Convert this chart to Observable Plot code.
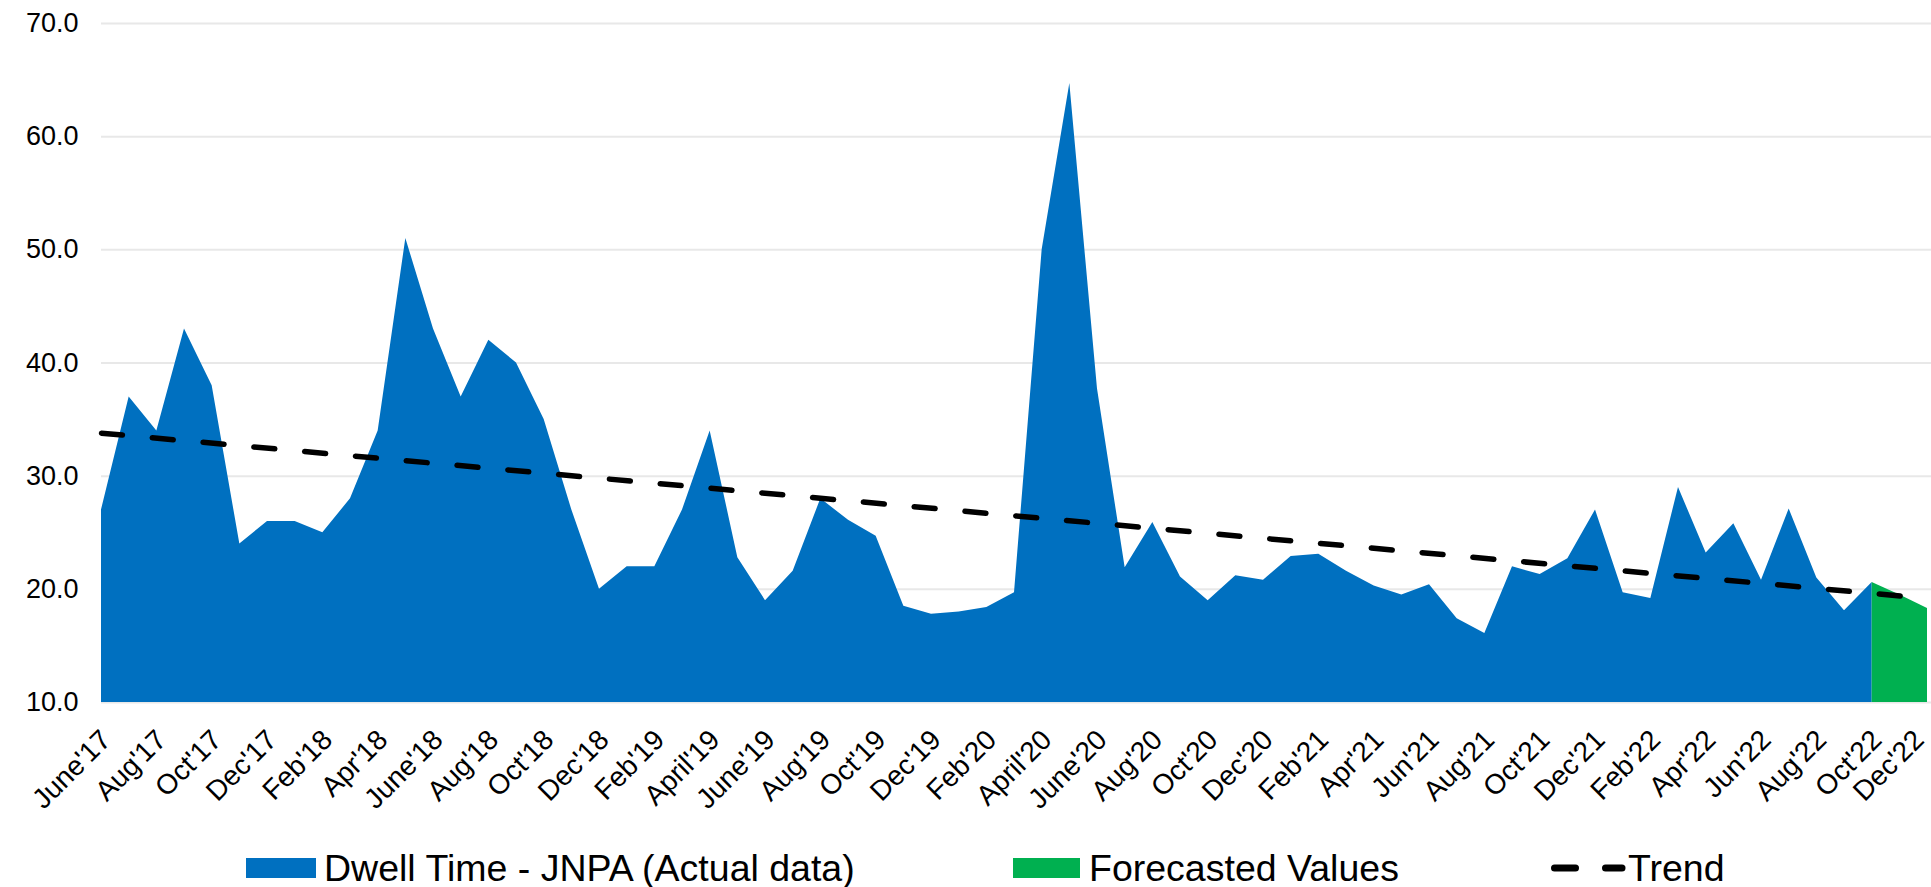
<!DOCTYPE html>
<html>
<head>
<meta charset="utf-8">
<script src="https://cdn.jsdelivr.net/npm/d3@7"></script>
<script src="https://cdn.jsdelivr.net/npm/@observablehq/plot@0.6"></script>
<style>
  html, body { margin: 0; padding: 0; background: #fff; }
  body { position: relative; width: 1931px; height: 887px; overflow: hidden; font-family: "Liberation Sans", Arial, sans-serif; }
  #chart { position: absolute; left: 0; top: 0; }
  .lg { position: absolute; font-size: 37.5px; line-height: 38px; color: #000; white-space: nowrap; }
  .sw { position: absolute; }
</style>
</head>
<body>
<div id="chart"></div>
<div class="sw" style="left:246px;top:858px;width:70px;height:20px;background:#0070C0"></div>
<div class="lg" style="left:324px;top:849px">Dwell Time - JNPA (Actual data)</div>
<div class="sw" style="left:1013px;top:858px;width:67px;height:20px;background:#00B050"></div>
<div class="lg" style="left:1089px;top:849px">Forecasted Values</div>
<svg class="sw" style="left:1540px;top:858px" width="100" height="20">
  <line x1="14.5" y1="10" x2="35.5" y2="10" stroke="#000" stroke-width="7" stroke-linecap="round"/>
  <line x1="65.5" y1="10" x2="82" y2="10" stroke="#000" stroke-width="7" stroke-linecap="round"/>
</svg>
<div class="lg" style="left:1628px;top:849px">Trend</div>
<script>
// Tick labels (every second month, Jun'17 .. Dec'22)
const tickLabels = ["June'17","Aug'17","Oct'17","Dec'17","Feb'18","Apr'18","June'18","Aug'18","Oct'18","Dec'18",
  "Feb'19","April'19","June'19","Aug'19","Oct'19","Dec'19","Feb'20","April'20","June'20","Aug'20","Oct'20","Dec'20",
  "Feb'21","Apr'21","Jun'21","Aug'21","Oct'21","Dec'21","Feb'22","Apr'22","Jun'22","Aug'22","Oct'22","Dec'22"];
// Dwell Time - JNPA (Actual data), monthly Jun'17 .. Oct'22
const actual = [27.0,37.0,34.0,43.0,38.0,24.0,26.0,26.0,25.0,28.0,34.0,51.0,43.0,37.0,42.0,40.0,35.0,27.0,20.0,22.0,
  22.0,27.0,34.0,22.8,19.0,21.6,28.0,26.1,24.7,18.5,17.8,18.0,18.4,19.7,50.0,64.7,37.7,21.9,25.9,21.1,
  19.0,21.2,20.8,22.9,23.1,21.6,20.3,19.5,20.4,17.4,16.1,22.0,21.3,22.7,27.0,19.7,19.2,29.0,23.2,25.8,
  20.8,27.1,21.0,18.1,20.6];
// Forecasted values, Oct'22 .. Dec'22
const forecast = [20.6,19.5,18.3];
// Trend line values at first (Jun'17) and last (Dec'22) month
const trend = [33.8,19.2];
const yTicks = [10,20,30,40,50,60,70];

const nMonths = actual.length + forecast.length - 1; // 67
const actualData = actual.map((v,i)=>({i, v}));
const forecastData = forecast.map((v,k)=>({i: actual.length - 1 + k, v}));
const trendData = [{i:0, v:trend[0]}, {i:nMonths-1, v:trend[1]}];
const tickData = tickLabels.map((t,k)=>({i:k*2, t}));
const tickMain = tickData.slice(0, -1);
const tickLast = tickData.slice(-1);

const labelOpts = {x: "i", y: () => 10, text: "t", rotate: -45, textAnchor: "end", lineAnchor: "top", dy: 25, fontSize: 28, fill: "#000"};

const chart = Plot.plot({
  width: 1931,
  height: 830,
  marginLeft: 101,
  marginRight: 4,
  marginTop: 23,
  marginBottom: 128,
  style: {fontFamily: "'Liberation Sans', Arial, sans-serif", fontSize: "27px", color: "#000", background: "#fff", overflow: "visible"},
  x: {type: "linear", domain: [0, nMonths-1], axis: null},
  y: {domain: [10, 70], axis: null},
  marks: [
    Plot.ruleY(yTicks, {stroke: "#e8e8e8", strokeWidth: 2, strokeOpacity: 1, insetRight: -4}),
    Plot.areaY(actualData, {x: "i", y1: 10, y2: "v", fill: "#0070C0"}),
    Plot.areaY(forecastData, {x: "i", y1: 10, y2: "v", fill: "#00B050"}),
    Plot.line(trendData, {x: "i", y: "v", stroke: "#000", strokeWidth: 5.5, strokeLinecap: "round", strokeDasharray: "21,30"}),
    Plot.axisY({ticks: yTicks, tickFormat: d => d.toFixed(1), tickSize: 0, tickPadding: 23, fontSize: 27, label: null}),
    Plot.text(tickMain, {...labelOpts, dx: -3}),
    Plot.text(tickLast, {...labelOpts, dx: -16})
  ]
});
document.getElementById("chart").appendChild(chart);
</script>
</body>
</html>
